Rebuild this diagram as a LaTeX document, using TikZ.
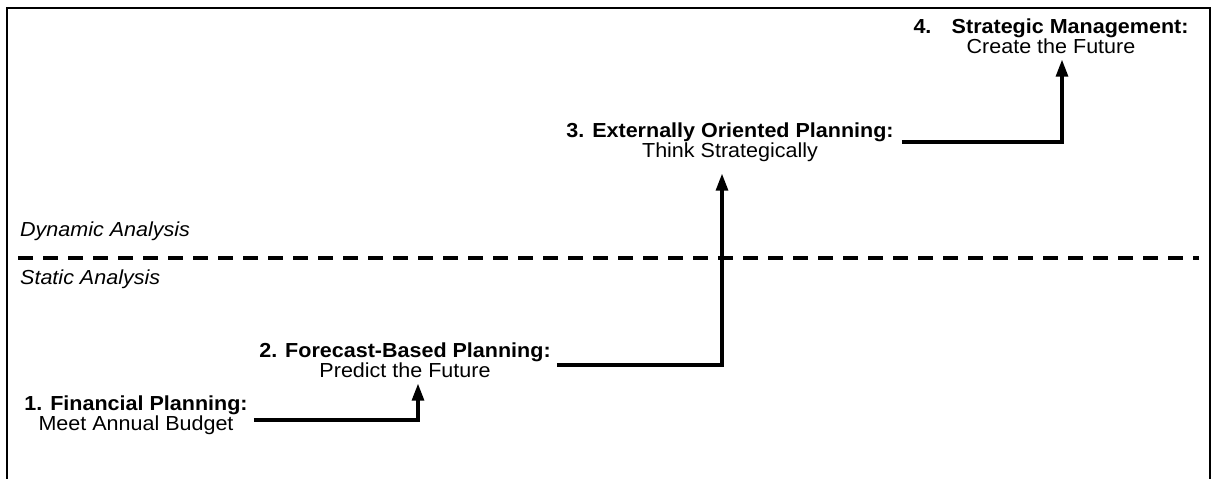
\documentclass[tikz,border=0pt]{standalone}
\usepackage{fontspec}
\setmainfont{Liberation Sans}[FakeStretch=1.06]
\usetikzlibrary{arrows.meta,positioning}

\tikzset{
  stage/.style={align=center, inner sep=0pt, font=\fontsize{20.3}{18.5}\selectfont},
  zone/.style={anchor=west, inner sep=0pt, font=\fontsize{20.3}{18.5}\selectfont\itshape},
  riser/.style={line width=3.1pt, -{Triangle[length=17pt,width=12pt]}},
  divider/.style={line width=3.4pt, dash pattern=on 15pt off 10pt},
}

\begin{document}
\begin{tikzpicture}[x=1pt,y=-1pt]
\useasboundingbox (0,0) rectangle (1216,479);

% frame, open at the bottom
\draw [line width=2.8pt] (7,479) -- (7,8) -- (1210,8) -- (1210,479);

% static / dynamic split
\coordinate (divl) at (18,258);
\coordinate (divr) at (1199,258);
\draw [divider] (divl) -- (divr);
\node [zone] (dyn) at (20,231) {Dynamic Analysis};
\node [zone] (stat) at (20,279) {Static Analysis};

% the four stages
\node [stage] (fin) at (136,415) {\textbf{1. Financial Planning:}\\Meet Annual Budget};
\node [stage] (fore) at (405,360) {\textbf{2. Forecast-Based Planning:}\\Predict the Future};
\node [stage] (ext) at (730,142) {\textbf{3. Externally Oriented Planning:}\\Think Strategically};
\node [stage] (strat) at (1051,36) {\textbf{4.\quad Strategic Management:}\\Create the Future};

\draw [riser] ([xshift=6pt,yshift=-5pt]fin.east) -| ([xshift=13pt,yshift=-6pt]fore.south);
\draw [riser] ([xshift=6pt,yshift=-5pt]fore.east) -| ([xshift=-8pt,yshift=-12pt]ext.south);
\draw [riser] ([xshift=8pt,yshift=0pt]ext.east) -| ([xshift=11pt,yshift=-6pt]strat.south);

\end{tikzpicture}
\end{document}
